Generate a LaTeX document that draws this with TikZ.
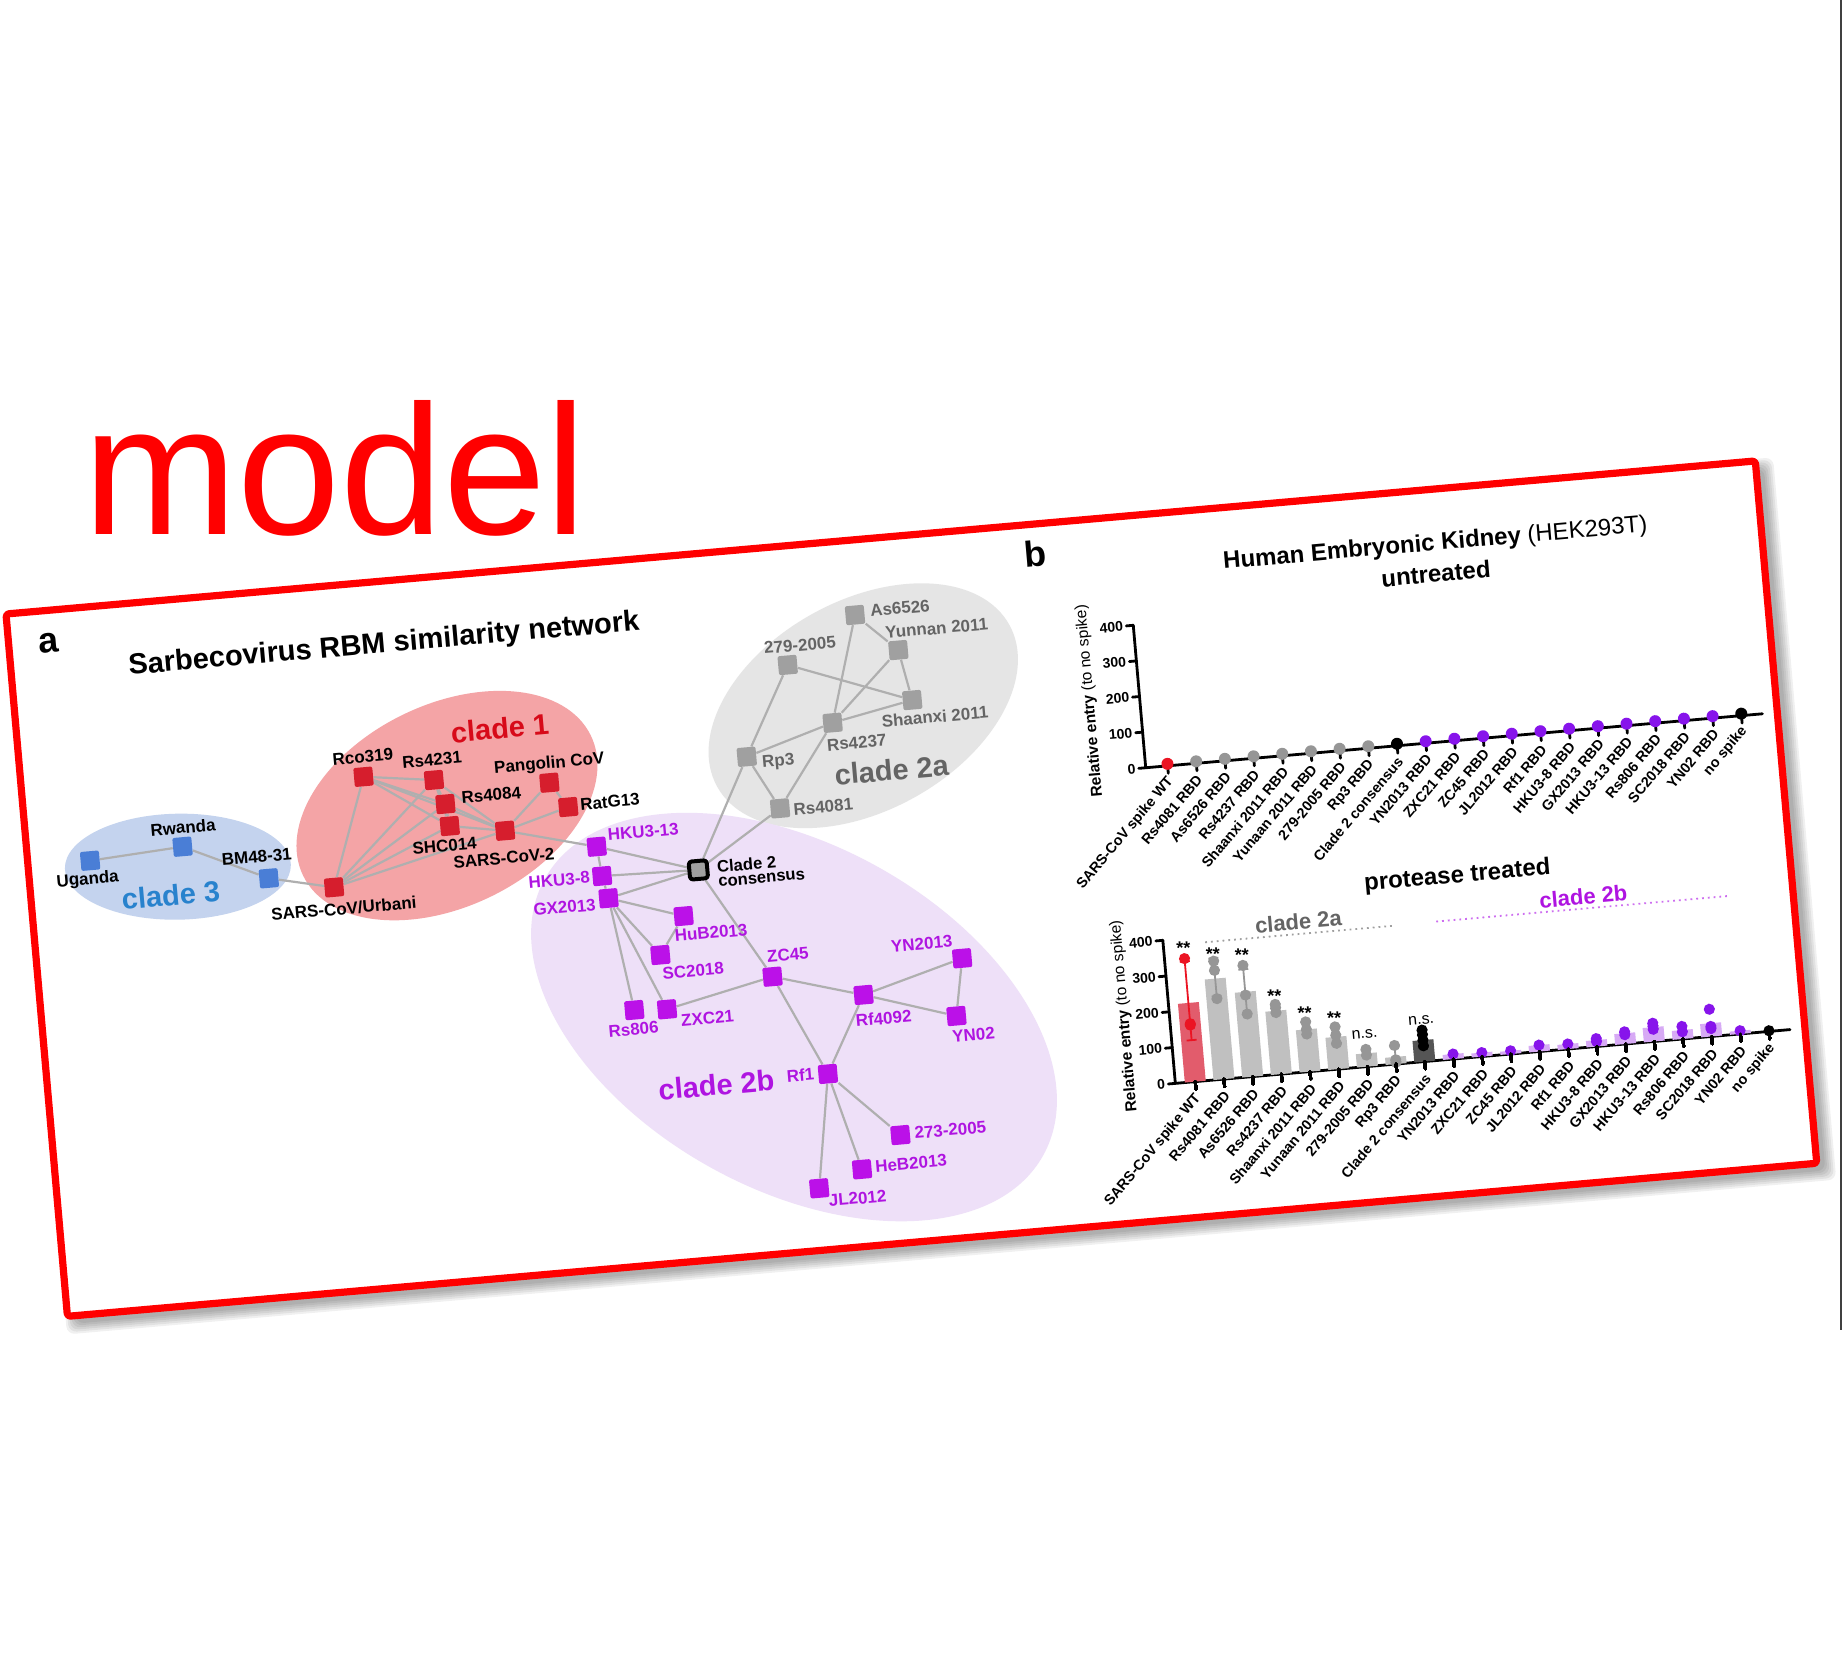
\documentclass[tikz,border=0pt]{standalone}
\usepackage{fontspec}
\setmainfont{Liberation Sans}
\usetikzlibrary{calc}
\pgfdeclarelayer{back}
\pgfdeclarelayer{bg}
\pgfsetlayers{back,bg,main}
\definecolor{modelred}{RGB}{255,0,0}
\definecolor{cIfill}{RGB}{244,164,166}
\definecolor{cIIIfill}{RGB}{196,211,238}
\definecolor{cIIafill}{RGB}{229,229,229}
\definecolor{cIIbfill}{RGB}{238,224,248}
\definecolor{redsq}{RGB}{214,30,45}
\definecolor{bluesq}{RGB}{74,126,214}
\definecolor{graysq}{RGB}{160,160,160}
\definecolor{purpsq}{RGB}{187,17,232}
\definecolor{purptxt}{RGB}{175,20,225}
\definecolor{bluetxt}{RGB}{40,130,205}
\definecolor{redtxt}{RGB}{215,10,25}
\definecolor{graytxt}{RGB}{100,100,100}
\definecolor{edgec}{RGB}{175,175,175}
\definecolor{ptred}{RGB}{235,20,35}
\definecolor{ptgray}{RGB}{150,150,150}
\definecolor{ptpurp}{RGB}{135,20,235}
\definecolor{barred}{RGB}{226,92,108}
\definecolor{bargray}{RGB}{192,192,192}
\definecolor{bardark}{RGB}{85,85,85}
\definecolor{barpurp}{RGB}{215,170,245}
\definecolor{dotpurp}{RGB}{205,110,240}
\newcommand{\mybar}[3]{\fill[#3] ({1144+28.8*#1-10.5},569.5) rectangle ({1144+28.8*#1+10.5},{569.5-0.359*#2});}
\newcommand{\mypt}[3]{\fill[#3] ({1144+28.8*#1},{569.5-0.359*#2}) circle (2.8pt);}
\newcommand{\myerr}[4]{\draw[#4, line width=0.9pt] ({1144+28.8*#1},{569.5-0.359*#2}) -- ({1144+28.8*#1},{569.5-0.359*#3}) ({1144+28.8*#1-5},{569.5-0.359*#2}) -- ({1144+28.8*#1+5},{569.5-0.359*#2}) ({1144+28.8*#1-5},{569.5-0.359*#3}) -- ({1144+28.8*#1+5},{569.5-0.359*#3});}
\newcommand{\mymark}[4]{\node[#4, inner sep=0pt] (mk#1) at ({1144+28.8*#1},{569.5-0.359*#2}) {#3};}
\begin{document}
\begin{tikzpicture}[x=0.5pt,y=-0.5pt,line join=round,
  sqr/.style={rectangle, minimum size=9.5pt, inner sep=0pt, rounded corners=1pt},
  rsq/.style={sqr, fill=redsq},
  bsq/.style={sqr, fill=bluesq},
  gsq/.style={sqr, fill=graysq},
  psq/.style={sqr, fill=purpsq},
  cons/.style={rectangle, minimum size=9pt, inner sep=0pt, rounded corners=1.5pt, fill=graysq, draw=black, line width=2pt},
  lab/.style={font=\fontsize{8.5}{8.5}\selectfont\bfseries, inner sep=0pt},
  glab/.style={lab, text=graytxt},
  plab/.style={lab, text=purptxt},
  cladetxt/.style={font=\fontsize{14.5}{14.5}\selectfont\bfseries, inner sep=0pt},
  edge/.style={draw=edgec, line width=1.1pt},
  axisline/.style={line width=1.4pt, line cap=round},
  ticklab/.style={font=\fontsize{7}{7}\selectfont\bfseries, inner sep=0pt},
  catlab/.style={font=\fontsize{7.2}{7.2}\selectfont\bfseries, inner sep=0pt},
  ylab/.style={font=\fontsize{7.8}{7.8}\selectfont, inner sep=0pt},
  ctitle/.style={font=\fontsize{12}{12}\selectfont\bfseries, inner sep=0pt},
  star/.style={font=\fontsize{9}{9}\selectfont\bfseries},
  ns/.style={font=\fontsize{8}{8}\selectfont}
]
\useasboundingbox (0,0) rectangle (1844,1660);
\begin{pgfonlayer}{back}
\fill[white] (0,0) rectangle (1844,1660);
\end{pgfonlayer}

\node[anchor=base west, text=modelred, inner sep=0pt, font=\fontsize{92.5}{92.5}\selectfont] (model) at (82.8,534) {model};
\draw[line width=1.2pt, black!75] (1841,0) -- (1841,1330);

\begin{scope}[shift={(6,614)}, rotate=5, every node/.append style={transform shape}]
\begin{pgfonlayer}{back}
\foreach \k in {0,...,5}
  \fill[black, opacity=0.06, rounded corners=4pt] ({8-2*\k},{8-2*\k}) rectangle ({1764+2*\k},{713+2*\k});
\fill[white] (0,0) rectangle (1756,705);
\end{pgfonlayer}

% ---------- panel a ----------
\node[font=\fontsize{18}{18}\selectfont\bfseries, inner sep=0pt] (pa) at (39.5,32.9) {a};
\node[font=\fontsize{14.5}{14.5}\selectfont\bfseries, inner sep=0pt] (tta) at (373.9,63.8) {Sarbecovirus RBM similarity network};

\node[bsq] (ug) at (62.3,253.1) {};
\node[bsq] (rw) at (155.6,247.2) {};
\node[bsq] (bm) at (238.8,286.2) {};
\node[rsq] (urb) at (303,300.9) {};
\node[rsq] (rco) at (342,193.3) {};
\node[rsq] (ra) at (411.9,202.7) {};
\node[rsq] (rb) at (421.2,227.6) {};
\node[rsq] (shc) at (423.6,249.9) {};
\node[rsq] (pang) at (526.6,215.4) {};
\node[rsq] (ratg) at (543.3,241.3) {};
\node[rsq] (cov) at (478.3,259.4) {};
\node[gsq] (as) at (845.7,75) {};
\node[gsq] (yun) at (885.8,113.7) {};
\node[gsq] (cA) at (774.3,118.9) {};
\node[gsq] (shx) at (895.3,164.7) {};
\node[gsq] (rc) at (814,180.4) {};
\node[gsq] (rp) at (725.5,206.8) {};
\node[gsq] (rd) at (754.2,261.1) {};
\node[cons] (cons) at (667.4,315.3) {};
\node[psq] (hA) at (568.2,283.3) {};
\node[psq] (hB) at (571,313) {};
\node[psq] (gx) at (575.5,335.7) {};
\node[psq] (hub) at (648.7,360) {};
\node[psq] (sc) at (622.2,396.7) {};
\node[psq] (rse) at (591.4,449.3) {};
\node[psq] (zxc) at (624.1,451.4) {};
\node[psq] (zc) at (732,428.1) {};
\node[psq] (rfa) at (821.1,454.2) {};
\node[psq] (ynA) at (922.5,426.3) {};
\node[psq] (ynB) at (911.8,483.3) {};
\node[psq] (rf) at (778.7,529.8) {};
\node[psq] (cB) at (845.6,597) {};
\node[psq] (heb) at (804.4,627.8) {};
\node[psq] (jl) at (760.1,643) {};

\begin{pgfonlayer}{bg}
\fill[cIIIfill, rotate around={-4:(149.2,266.7)}] (149.2,266.7) ellipse [x radius=56.5pt, y radius=26.5pt];
\fill[cIfill, rotate around={21:(422.6,229.3)}] (422.6,229.3) ellipse [x radius=80pt, y radius=50.5pt];
\fill[cIIafill, rotate around={24:(846,166.1)}] (846,166.1) ellipse [x radius=83.5pt, y radius=52.5pt];
\fill[cIIbfill, rotate around={-34:(749.9,470.2)}] (749.9,470.2) ellipse [x radius=142.5pt, y radius=86pt];
\foreach \a/\b in {ug/rw,rw/bm,bm/urb,
  rco/ra,rco/rb,rco/shc,rco/cov,rco/urb,ra/rb,ra/shc,ra/cov,ra/urb,rb/shc,rb/cov,rb/urb,shc/cov,shc/urb,
  pang/ratg,pang/cov,ratg/cov,cov/urb,cov/hA,
  as/yun,as/rc,cA/shx,cA/rp,yun/shx,yun/rc,rc/shx,rc/rp,rc/rd,rp/rd,rp/cons,rd/cons,
  hA/cons,hB/cons,gx/cons,hA/hB,hB/gx,gx/hub,gx/sc,gx/rse,gx/zxc,hub/sc,cons/zc,zc/zxc,zc/rfa,zc/rf,
  rfa/ynA,rfa/ynB,ynA/ynB,rfa/rf,rf/cB,rf/heb,rf/jl}
  \draw[edge] (\a) -- (\b);
\end{pgfonlayer}

\node[lab] (lug) at (58.2,272.1) {Uganda};
\node[lab] (lrw) at (157.7,227.9) {Rwanda};
\node[lab] (lbm) at (228.7,263.7) {BM48-31};
\node[lab] (lurb) at (310.9,322.7) {SARS-CoV/Urbani};
\node[lab] (lrco) at (343,173.3) {Rco319};
\node[lab] (lra) at (411.7,182.5) {Rs4231};
\node[lab] (lrb) at (467.7,222.6) {Rs4084};
\node[lab] (lshc) at (416.8,269) {SHC014};
\node[lab] (lpang) at (528.2,197.1) {Pangolin CoV};
\node[lab] (lratg) at (585.3,239.6) {RatG13};
\node[lab] (lcov) at (474.8,286.8) {SARS-CoV-2};
\node[glab] (las) at (891.1,72.2) {As6526};
\node[glab] (lyun) at (925.9,95.4) {Yunnan 2011};
\node[glab] (lcA) at (788.3,100.1) {279-2005};
\node[glab] (lshx) at (916.5,183.3) {Shaanxi 2011};
\node[glab] (lrc) at (836.3,202.3) {Rs4237};
\node[glab] (lrp) at (756.5,215) {Rp3};
\node[glab] (lrd) at (797.4,263.2) {Rs4081};
\node[lab, anchor=west, align=left, font=\fontsize{8.3}{7}\selectfont\bfseries] (lcons) at (686,321) {Clade 2\\consensus};
\node[plab] (lhA) at (615.8,272.4) {HKU3-13};
\node[plab] (lhB) at (528,313.2) {HKU3-8};
\node[plab] (lgx) at (530.9,340.9) {GX2013};
\node[plab] (lhub) at (674.6,379) {HuB2013};
\node[plab] (lsc) at (653.5,415.2) {SC2018};
\node[plab] (lrse) at (589,468.4) {Rs806};
\node[plab] (lzxc) at (663.6,463.9) {ZXC21};
\node[plab] (lzc) at (749.2,407.8) {ZC45};
\node[plab] (lrfa) at (839.1,479.3) {Rf4092};
\node[plab] (lynA) at (883.5,408.5) {YN2013};
\node[plab] (lynB) at (927.2,503.7) {YN02};
\node[plab] (lrf) at (751.2,528.4) {Rf1};
\node[plab] (lcB) at (895.8,596.3) {273-2005};
\node[plab] (lheb) at (853.8,626.1) {HeB2013};
\node[plab] (ljl) at (797.4,656.3) {JL2012};

\node[cladetxt, text=bluetxt] (tc3) at (139.7,294.3) {clade 3};
\node[cladetxt, text=redtxt] (tc1) at (482.1,157) {clade 1};
\node[cladetxt, text=graytxt] (tc2a) at (868.7,232.6) {clade 2a};
\node[cladetxt, text=purptxt] (tc2b) at (666.6,531.1) {clade 2b};

% ---------- panel b ----------
\node[font=\fontsize{18}{18}\selectfont\bfseries, inner sep=0pt] (pb) at (1030.5,29.2) {b};
\node[ctitle] (tb1) at (1430,55) {Human Embryonic Kidney \mdseries(HEK293T)};
\node[ctitle] (tb2) at (1428,84.5) {untreated};
\node[ctitle] (tb3) at (1423,388) {protease treated};

% top chart
\draw[axisline] (1122,109.5) -- (1122,252.5) -- (1741,252.5);
\foreach \t in {0,100,200,300,400} {
  \draw[axisline] (1122,{252.5-0.3575*\t}) -- (1115,{252.5-0.3575*\t});
  \node[ticklab, anchor=east] (ty\t) at (1112,{252.5-0.3575*\t}) {\t};
}
\foreach \i in {0,...,20} \draw[axisline] ({1144+28.8*\i},252.5) -- ({1144+28.8*\i},260);
\foreach \i/\c in {0/ptred,1/ptgray,2/ptgray,3/ptgray,4/ptgray,5/ptgray,6/ptgray,7/ptgray,8/black,9/ptpurp,10/ptpurp,11/ptpurp,12/ptpurp,13/ptpurp,14/ptpurp,15/ptpurp,16/ptpurp,17/ptpurp,18/ptpurp,19/ptpurp,20/black}
  \fill[\c] ({1144+28.8*\i},250.5) circle (3pt);
\node[ylab, rotate=90] (yl1) at (1072,181) {\bfseries Relative entry \mdseries(to no spike)};

% bottom chart
\draw[axisline] (1124,425.9) -- (1124,569.5) -- (1741,569.5);
\foreach \t in {0,100,200,300,400} {
  \draw[axisline] (1124,{569.5-0.359*\t}) -- (1117,{569.5-0.359*\t});
  \node[ticklab, anchor=east] (tz\t) at (1114,{569.5-0.359*\t}) {\t};
}
\node[ylab, rotate=90] (yl2) at (1079,498) {\bfseries Relative entry \mdseries(to no spike)};
\draw[graysq, dotted, line width=0.9pt] (1166,431.5) -- (1355,431.5);
\draw[dotpurp, dotted, line width=0.9pt] (1398,431) -- (1693,431);
\node[font=\fontsize{11}{11}\selectfont\bfseries, text=graytxt, inner sep=0pt] (bc2a) at (1260.6,419.1) {clade 2a};
\node[font=\fontsize{11}{11}\selectfont\bfseries, text=purptxt, inner sep=0pt] (bc2b) at (1546.7,419.1) {clade 2b};

\mybar{0}{220}{barred}
\mybar{1}{281}{bargray}
\mybar{2}{237}{bargray}
\mybar{3}{177}{bargray}
\mybar{4}{118}{bargray}
\mybar{5}{90}{bargray}
\mybar{6}{37}{bargray}
\mybar{7}{20}{bargray}
\mybar{8}{60}{bardark}
\mybar{9}{14}{barpurp}
\mybar{10}{11}{barpurp}
\mybar{11}{9}{barpurp}
\mybar{12}{18}{barpurp}
\mybar{13}{14}{barpurp}
\mybar{14}{18}{barpurp}
\mybar{15}{30}{barpurp}
\mybar{16}{40}{barpurp}
\mybar{17}{25}{barpurp}
\mybar{18}{37}{barpurp}
\mybar{19}{9}{barpurp}
\myerr{0}{116}{336}{ptred}
\myerr{1}{232}{338}{ptgray}
\myerr{2}{178}{300}{ptgray}
\myerr{3}{168}{192}{ptgray}
\myerr{4}{104}{140}{ptgray}
\myerr{5}{68}{116}{ptgray}
\myerr{7}{5}{48}{ptgray}
\myerr{8}{40}{88}{black}
\foreach \i/\v/\c in {0/344/ptred,0/158/ptred,0/162/ptred,
  1/330/ptgray,1/304/ptgray,1/225/ptgray,
  2/311/ptgray,2/228/ptgray,2/175/ptgray,
  3/195/ptgray,3/185/ptgray,3/172/ptgray,
  4/139/ptgray,4/118/ptgray,4/105/ptgray,
  5/118/ptgray,5/95/ptgray,5/72/ptgray,
  6/48/ptgray,6/32/ptgray,
  7/52/ptgray,7/12/ptgray,7/5/ptgray,
  8/88/black,8/75/black,8/60/black,8/44/black,
  9/14/ptpurp,10/11/ptpurp,11/9/ptpurp,12/18/ptpurp,13/14/ptpurp,
  14/22/ptpurp,14/14/ptpurp,15/34/ptpurp,15/26/ptpurp,
  16/51/ptpurp,16/43/ptpurp,16/34/ptpurp,17/35/ptpurp,17/20/ptpurp,
  18/76/ptpurp,18/28/ptpurp,18/22/ptpurp,19/9/ptpurp,20/2/black}
  \mypt{\i}{\v}{\c}
\foreach \i in {0,...,20} \draw[axisline] ({1144+28.8*\i},569.5) -- ({1144+28.8*\i},577);
\mymark{0}{374}{**}{star}
\mymark{1}{350}{**}{star}
\mymark{2}{340}{**}{star}
\mymark{3}{218}{**}{star}
\mymark{4}{164}{**}{star}
\mymark{5}{143}{**}{star}
\mymark{6}{91}{n.s.}{ns}
\mymark{8}{115}{n.s.}{ns}

\foreach \i/\t in {0/SARS-CoV spike WT,1/Rs4081 RBD,2/As6526 RBD,3/Rs4237 RBD,4/Shaanxi 2011 RBD,5/Yunaan 2011 RBD,6/279-2005 RBD,7/Rp3 RBD,8/Clade 2 consensus,9/YN2013 RBD,10/ZXC21 RBD,11/ZC45 RBD,12/JL2012 RBD,13/Rf1 RBD,14/HKU3-8 RBD,15/GX2013 RBD,16/HKU3-13 RBD,17/Rs806 RBD,18/SC2018 RBD,19/YN02 RBD,20/no spike} {
  \node[catlab, rotate=45, anchor=east] (cu\i) at ({1146+28.8*\i},266) {\t};
  \node[catlab, rotate=45, anchor=east] (cl\i) at ({1146+28.8*\i},584) {\t};
}

\draw[modelred, line width=3.6pt, rounded corners=1.5pt] (0,0) rectangle (1756,705);
\end{scope}
\end{tikzpicture}
\end{document}
